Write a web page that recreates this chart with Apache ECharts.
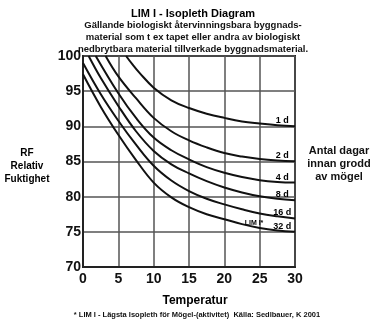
<!DOCTYPE html>
<html>
<head>
<meta charset="utf-8">
<script src="https://cdn.jsdelivr.net/npm/echarts@6/dist/echarts.min.js"></script>
<style>
  html, body { margin: 0; padding: 0; background: #fff; }
  #chart { width: 372px; height: 322px; }
</style>
</head>
<body>
<div id="chart"></div>
<script>
  // isopleths: [temperatur, RF]
  var curve1d = [[6.1, 100], [7, 98.8], [8, 97.6], [10, 95.5], [12.5, 93.7], [15, 92.6], [17.5, 91.8], [20, 91.2], [22.5, 90.7], [25, 90.4], [27.5, 90.15], [30, 90.0]];
  var curve2d = [[3.2, 100], [5, 97.1], [7.5, 94], [10, 91.2], [12.5, 89.3], [15, 88.0], [17.5, 87.0], [20, 86.2], [22.5, 85.7], [25, 85.35], [27.5, 85.15], [30, 85.05]];
  var curve4d = [[1.8, 100], [5, 94.7], [7.5, 91.2], [10, 88.4], [12.5, 86.6], [15, 85.3], [17.5, 84.2], [20, 83.4], [22.5, 82.8], [25, 82.35], [27.5, 82.1], [30, 82.0]];
  var curve8d = [[0.8, 100], [2.5, 96.9], [5, 92.9], [7.5, 89.3], [10, 86.5], [12.5, 84.6], [15, 83.3], [17.5, 82.2], [20, 81.3], [22.5, 80.6], [25, 80.05], [27.5, 79.7], [30, 79.5]];
  var curve16d = [[0, 99.0], [2.5, 94.6], [5, 90.8], [7.5, 87.4], [10, 84.4], [12.5, 82.3], [15, 80.8], [17.5, 79.7], [20, 78.9], [22.5, 78.2], [25, 77.6], [27.5, 77.2], [30, 76.9]];
  var curve32d = [[0, 97.4], [2.5, 92.8], [5, 88.8], [7.5, 85.2], [10, 82.0], [12.5, 79.9], [15, 78.5], [17.5, 77.5], [20, 76.8], [22.5, 76.1], [25, 75.55], [27.5, 75.2], [30, 75.0]];
  var curveNames = ['1 d', '2 d', '4 d', '8 d', '16 d', '32 d'];
  var xTicks = [0, 5, 10, 15, 20, 25, 30];
  var yTicks = [70, 75, 80, 85, 90, 95, 100];

  var font = '"Liberation Sans", Arial, sans-serif';
  var curves = [curve1d, curve2d, curve4d, curve8d, curve16d, curve32d];

  var series = curves.map(function (data, i) {
    var last = data[data.length - 1];
    var marks = [{
      coord: [28.2, last[1]],
      label: { show: true, formatter: curveNames[i], position: 'top', distance: 1, color: '#000', fontSize: 9, fontWeight: 'bold', fontFamily: font }
    }];
    if (i === 5) {
      marks.push({
        coord: [24.2, last[1] + 0.6],
        label: { show: true, formatter: 'LIM I*', position: 'top', distance: 1, color: '#000', fontSize: 7, fontWeight: 'bold', fontFamily: font }
      });
    }
    return {
      name: curveNames[i],
      type: 'line',
      smooth: 0.4,
      showSymbol: false,
      data: data,
      lineStyle: { color: '#111', width: 2 },
      markPoint: { symbol: 'circle', symbolSize: 0, data: marks },
      silent: true
    };
  });

  var chart = echarts.init(document.getElementById('chart'));
  chart.setOption({
    animation: false,
    backgroundColor: '#fff',
    textStyle: { fontFamily: font },
    title: [
      { text: 'LIM I - Isopleth Diagram', left: 188, top: 3, textAlign: 'center',
        textStyle: { fontSize: 11, fontWeight: 'bold', color: '#000', fontFamily: font } },
      { text: 'Gällande biologiskt återvinningsbara byggnads-\nmaterial som t ex tapet eller andra av biologiskt\nnedbrytbara material tillverkade byggnadsmaterial.',
        left: 188, top: 14, textAlign: 'center',
        textStyle: { fontSize: 9.5, lineHeight: 12, fontWeight: 'bold', color: '#111', fontFamily: font } },
      { text: 'RF\nRelativ\nFuktighet', left: 22, top: 142, textAlign: 'center',
        textStyle: { fontSize: 10, lineHeight: 13, fontWeight: 'bold', color: '#000', fontFamily: font } },
      { text: 'Antal dagar\ninnan grodd\nav mögel', left: 334, top: 139, textAlign: 'center',
        textStyle: { fontSize: 11, lineHeight: 13, fontWeight: 'bold', color: '#111', fontFamily: font } },
      { text: 'Temperatur', left: 190, top: 290, textAlign: 'center',
        textStyle: { fontSize: 12, fontWeight: 'bold', color: '#000', fontFamily: font } },
      { text: '* LIM I - Lägsta Isopleth för Mögel-(aktivitet)  Källa: Sedlbauer, K 2001', left: 192, top: 306, textAlign: 'center',
        textStyle: { fontSize: 7.5, fontWeight: 'bold', color: '#111', fontFamily: font } }
    ],
    grid: { left: 83, right: 77, top: 56, bottom: 55, show: true, borderColor: '#222', borderWidth: 2 },
    xAxis: {
      type: 'value', min: 0, max: 30, interval: 5,
      axisLine: { show: true, lineStyle: { color: '#222', width: 2 } },
      axisTick: { show: false },
      axisLabel: { color: '#111', fontSize: 14, fontWeight: 'bold', margin: 5, fontFamily: font,
        customValues: xTicks },
      splitLine: { show: true, lineStyle: { color: '#555', width: 1.5 } }
    },
    yAxis: {
      type: 'value', min: 70, max: 100, interval: 5,
      axisLine: { show: true, lineStyle: { color: '#222', width: 2 } },
      axisTick: { show: false },
      axisLabel: { color: '#111', fontSize: 14, fontWeight: 'bold', margin: 2, fontFamily: font,
        customValues: yTicks },
      splitLine: { show: true, lineStyle: { color: '#555', width: 1.5 } }
    },
    series: series
  });
</script>
</body>
</html>
